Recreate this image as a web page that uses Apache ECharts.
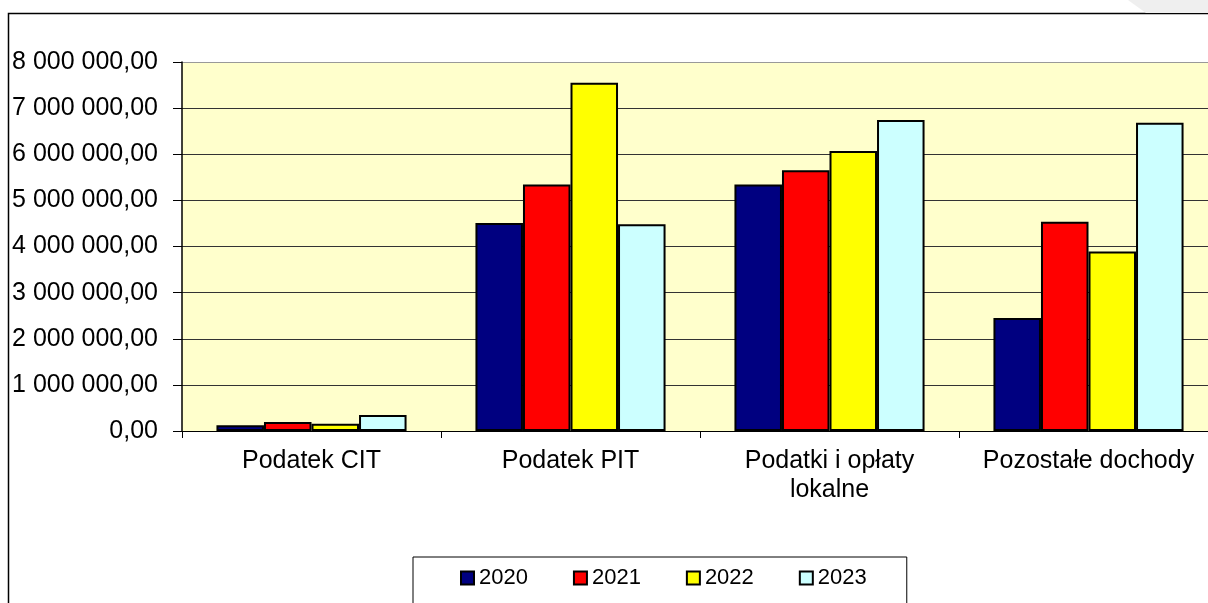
<!DOCTYPE html>
<html><head><meta charset="utf-8">
<script src="https://cdn.jsdelivr.net/npm/echarts@6/dist/echarts.min.js"></script>
<style>html,body{margin:0;padding:0;background:#fff;overflow:hidden;width:1208px;height:603px}#c{width:1220px;height:603px}</style>
</head><body><div id="c"></div>
<script>
const categories = ['Podatek CIT', 'Podatek PIT', 'Podatki i opłaty\nlokalne', 'Pozostałe dochody'];
const years = ['2020', '2021', '2022', '2023'];
const v2020 = [125000, 4510000, 5345000, 2450000];
const v2021 = [195000, 5345000, 5655000, 4535000];
const v2022 = [158000, 7550000, 6070000, 3890000];
const v2023 = [347000, 4485000, 6740000, 6685000];
const colors = ['#000080', '#FF0000', '#FFFF00', '#CCFFFF'];
const yTicks = [0, 1000000, 2000000, 3000000, 4000000, 5000000, 6000000, 7000000, 8000000];

const FONT = 'Liberation Sans, Arial, sans-serif';
function fmt(v) {
  const s = Math.round(v).toString().replace(/\B(?=(\d{3})+(?!\d))/g, ' ');
  return s + ',00';
}
const chart = echarts.init(document.getElementById('c'), null, {renderer: 'canvas'});
const seriesVals = [v2020, v2021, v2022, v2023];
chart.setOption({
  animation: false,
  backgroundColor: '#fff',
  graphic: [
    {type: 'polygon', shape: {points: [[1128, 0], [1220, 0], [1220, 13], [1146, 13]]}, style: {fill: '#efefef'}, silent: true},
    {type: 'rect', shape: {x: 8.5, y: 13.5, width: 1300, height: 700}, style: {fill: 'none', stroke: '#000', lineWidth: 1.5}, silent: true, z: -1}
  ],
  grid: {left: 182, right: 2, top: 62, bottom: 172, show: true, backgroundColor: '#FFFFCC', borderWidth: 0},
  legend: {
    data: years, left: 413, top: 557, orient: 'horizontal',
    backgroundColor: '#fff', borderColor: '#000', borderWidth: 1,
    padding: [10, 40, 30, 47], itemGap: 45, itemWidth: 13, itemHeight: 13,
    icon: 'rect',
    textStyle: {fontFamily: FONT, fontSize: 22, color: '#000'},
    itemStyle: {borderColor: '#000', borderWidth: 2}
  },
  xAxis: {
    type: 'category', data: categories,
    axisLine: {lineStyle: {color: '#000', width: 1}},
    axisTick: {show: true, length: 7, lineStyle: {color: '#000'}},
    axisLabel: {fontFamily: FONT, fontSize: 25, color: '#000', margin: 16, lineHeight: 29, interval: 0}
  },
  yAxis: {
    type: 'value', min: yTicks[0], max: yTicks[yTicks.length - 1], interval: 1000000,
    axisLine: {show: true, lineStyle: {color: '#000', width: 1.5}},
    axisTick: {show: true, length: 9, lineStyle: {color: '#000'}},
    axisLabel: {fontFamily: FONT, fontSize: 25, color: '#000', margin: 24, formatter: fmt},
    splitLine: {show: true, lineStyle: {color: ['#333', '#333', '#333', '#333', '#333', '#333', '#333', '#333', '#999'], width: 1}}
  },
  series: years.map((y, i) => ({
    name: y, type: 'bar', data: seriesVals[i],
    barGap: '0%', barCategoryGap: '26.6%',
    itemStyle: {color: colors[i], borderColor: '#000', borderWidth: 2}
  }))
});
</script></body></html>
